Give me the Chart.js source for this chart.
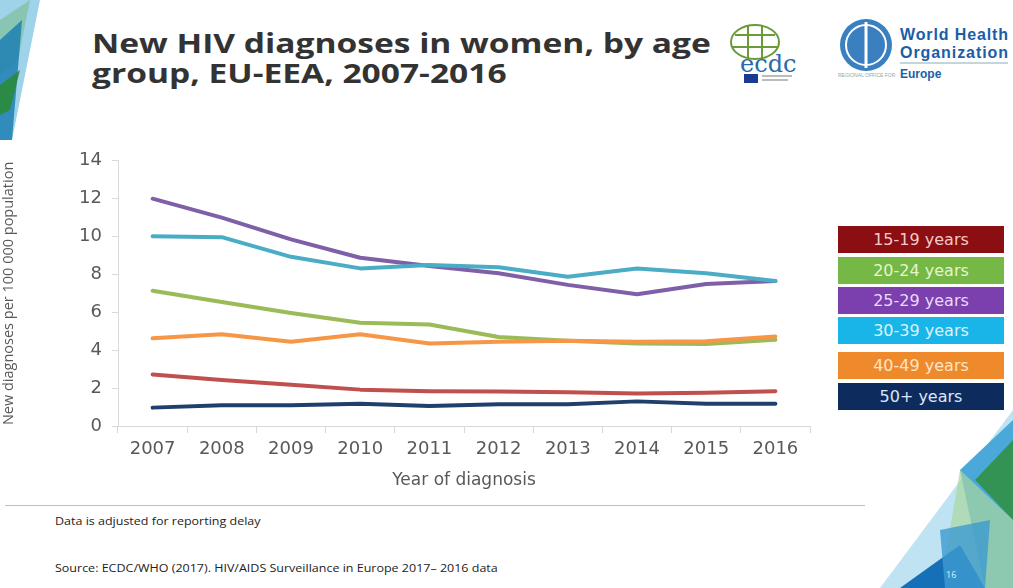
<!DOCTYPE html>
<html>
<head>
<meta charset="utf-8">
<script src="https://cdn.jsdelivr.net/npm/chart.js@4.4.1/dist/chart.umd.min.js"></script>
<style>
  html, body { margin:0; padding:0; background:#fff; }
  body { width:1013px; height:588px; position:relative; overflow:hidden; font-family:"Open Sans", sans-serif; }
  #title { position:absolute; left:92px; top:28px; font-family:"Open Sans", sans-serif; font-weight:700; font-size:26px; line-height:30px; color:#333; transform:scaleX(1.29); transform-origin:0 0; white-space:nowrap; }
  #chartWrap { position:absolute; left:0; top:140px; width:830px; height:351px; }
  #legend { position:absolute; left:838px; top:226px; width:166px; }
  .lg { position:absolute; left:0; width:166px; height:27px; line-height:27px; text-align:center; font-size:16px; font-family:"DejaVu Sans", sans-serif; }
  #divider { position:absolute; left:5px; top:505px; width:860px; height:1px; background:#bfbfbf; }
  .foot { position:absolute; left:55px; font-size:10.5px; color:#222; font-family:"Open Sans", sans-serif; white-space:nowrap; transform:scaleX(1.19); transform-origin:0 0; }
  #deco { position:absolute; left:0; top:0; }
  #pg { position:absolute; left:946px; top:568px; font-size:9px; color:#dfefff; }
</style>
</head>
<body>
<svg id="deco" width="1013" height="588">
  <!-- top-left decoration -->
  <polygon points="0,0 40,0 12,140 0,140" fill="#9fd3ea"/>
  <polygon points="0,20 30,0 18,60 0,75" fill="#7fbf9a" opacity="0.7"/>
  <polygon points="0,40 22,20 12,140 0,140" fill="#1d7fb3" opacity="0.85"/>
  <polygon points="0,85 20,70 10,110 0,115" fill="#2a8a3a" opacity="0.9"/>
  <!-- bottom-right decoration -->
  <polygon points="1013,410 1013,588 880,588" fill="#bfe3f2"/>
  <polygon points="1013,420 960,470 985,588 1013,588" fill="#4aa9d8"/>
  <polygon points="1013,440 975,480 1013,520" fill="#2e8f3e" opacity="0.85"/>
  <polygon points="960,470 1013,520 1013,588 940,588" fill="#a9d7a0" opacity="0.7"/>
  <polygon points="900,588 960,545 985,588" fill="#1670b8"/>
  <polygon points="940,530 990,520 985,588 945,588" fill="#3d9bd0" opacity="0.8"/>
  <!-- ecdc logo approximation -->
  <ellipse cx="755" cy="42" rx="24" ry="17" fill="none" stroke="#6a9a3a" stroke-width="2"/>
  <line x1="735" y1="35" x2="775" y2="35" stroke="#6a9a3a" stroke-width="2"/>
  <line x1="733" y1="47" x2="777" y2="47" stroke="#6a9a3a" stroke-width="2"/>
  <line x1="748" y1="26" x2="748" y2="58" stroke="#6a9a3a" stroke-width="2"/>
  <line x1="762" y1="26" x2="762" y2="58" stroke="#6a9a3a" stroke-width="2"/>
  <text x="740" y="72" font-family="DejaVu Serif, serif" font-size="24" fill="#2a6aa8">ecdc</text>
  <rect x="744" y="74" width="14" height="9" fill="#1a3c8f"/>
  <rect x="762" y="75" width="30" height="2" fill="#bbb"/><rect x="762" y="79" width="26" height="2" fill="#bbb"/>
  <!-- WHO logo approximation -->
  <circle cx="866" cy="45" r="26" fill="#3a7fc0"/>
  <circle cx="866" cy="45" r="20" fill="none" stroke="#fff" stroke-width="2"/>
  <line x1="866" y1="22" x2="866" y2="68" stroke="#fff" stroke-width="3"/>
  <text x="900" y="40" font-family="Liberation Sans, sans-serif" font-weight="700" font-size="16" fill="#1a5ea8" textLength="108">World Health</text>
  <text x="900" y="58" font-family="Liberation Sans, sans-serif" font-weight="700" font-size="16" fill="#1a5ea8" textLength="108">Organization</text>
  <line x1="900" y1="63" x2="1008" y2="63" stroke="#8ab" stroke-width="1"/>
  <text x="838" y="77" font-family="Liberation Sans, sans-serif" font-size="5" fill="#8aa">REGIONAL OFFICE FOR</text>
  <text x="900" y="78" font-family="Liberation Sans, sans-serif" font-weight="700" font-size="12" fill="#1a5ea8">Europe</text>
</svg>

<div id="title">New HIV diagnoses in women, by age<br>group, EU-EEA, 2007-2016</div>

<div id="chartWrap"><canvas id="c" width="830" height="351"></canvas></div>

<div id="legend"></div>

<div id="divider"></div>
<div class="foot" style="top:514px">Data is adjusted for reporting delay</div>
<div class="foot" style="top:561px">Source: ECDC/WHO (2017). HIV/AIDS Surveillance in Europe 2017– 2016 data</div>
<div id="pg">16</div>

<script>
const years = ["2007","2008","2009","2010","2011","2012","2013","2014","2015","2016"];
const seriesNames = ["15-19 years","20-24 years","25-29 years","30-39 years","40-49 years","50+ years"];
const age15_19 = [2.72, 2.43, 2.18, 1.92, 1.84, 1.82, 1.78, 1.72, 1.76, 1.84];
const age20_24 = [7.14, 6.55, 5.97, 5.45, 5.36, 4.70, 4.50, 4.36, 4.33, 4.55];
const age25_29 = [12.0, 11.0, 9.85, 8.88, 8.45, 8.06, 7.45, 6.95, 7.50, 7.65];
const age30_39 = [10.02, 9.97, 8.93, 8.32, 8.50, 8.38, 7.88, 8.32, 8.06, 7.65];
const age40_49 = [4.63, 4.84, 4.45, 4.84, 4.35, 4.45, 4.50, 4.45, 4.48, 4.72];
const age50plus = [0.97, 1.10, 1.10, 1.18, 1.05, 1.15, 1.15, 1.30, 1.18, 1.18];
const yTicks = [0, 2, 4, 6, 8, 10, 12, 14];

const lineColors = ["#c0504d", "#9bbb59", "#7f5fa8", "#4bacc6", "#f79646", "#1f3f6e"];
const boxColors  = ["#8b0e12", "#76b846", "#7b3fae", "#1ab5e8", "#ef8a2c", "#0e2b5e"];
const textColors = ["#f6c9c9", "#e4f5cf", "#ead9fb", "#d9f3fd", "#fde4c8", "#dbe6fa"];
const allData = [age15_19, age20_24, age25_29, age30_39, age40_49, age50plus];

// HTML legend
const legendTops = [0, 31, 61, 91, 126, 157];
const lg = document.getElementById('legend');
seriesNames.forEach((n, i) => {
  const d = document.createElement('div');
  d.className = 'lg';
  d.style.top = legendTops[i] + 'px';
  d.style.background = boxColors[i];
  d.style.color = textColors[i];
  d.textContent = n;
  lg.appendChild(d);
});

// draw order: back to front as in reference
const order = [5, 0, 4, 1, 3, 2];
const datasets = order.map(i => ({
  label: seriesNames[i],
  data: allData[i],
  borderColor: lineColors[i],
  backgroundColor: lineColors[i],
  borderWidth: 4,
  pointRadius: 0,
  tension: 0,
  borderCapStyle: 'round',
  borderJoinStyle: 'round'
}));

new Chart(document.getElementById('c'), {
  type: 'line',
  data: { labels: years, datasets },
  options: {
    responsive: false,
    animation: false,
    devicePixelRatio: 1,
    layout: { padding: { top: 18, right: 20, left: 0, bottom: 0 } },
    plugins: { legend: { display: false }, tooltip: { enabled: false } },
    scales: {
      x: {
        offset: true,
        grid: { offset: true, drawOnChartArea: false, drawTicks: true, tickLength: 7, color: '#d9d9d9' },
        border: { color: '#d9d9d9', width: 1 },
        ticks: { color: '#595959', font: { family: 'DejaVu Sans', size: 18 }, padding: 6, maxRotation: 0 },
        title: { display: true, text: 'Year of diagnosis', color: '#595959', font: { family: 'DejaVu Sans', size: 17 }, padding: { top: 4, bottom: 0 } },
        afterFit: s => { s.height = 65; }
      },
      y: {
        min: 0, max: 14,
        afterBuildTicks: s => { s.ticks = yTicks.map(v => ({ value: v })); },
        grid: { drawOnChartArea: false, drawTicks: true, tickLength: 6, color: '#d9d9d9' },
        border: { color: '#d9d9d9', width: 1 },
        ticks: { color: '#595959', font: { family: 'DejaVu Sans', size: 18 }, padding: 10 },
        title: { display: true, text: 'New diagnoses per 100 000 population', color: '#595959', font: { family: 'Open Sans', size: 14.5 }, padding: { top: 0, bottom: 4 } },
        afterFit: s => { s.width = 118; }
      }
    }
  }
});
</script>
</body>
</html>
